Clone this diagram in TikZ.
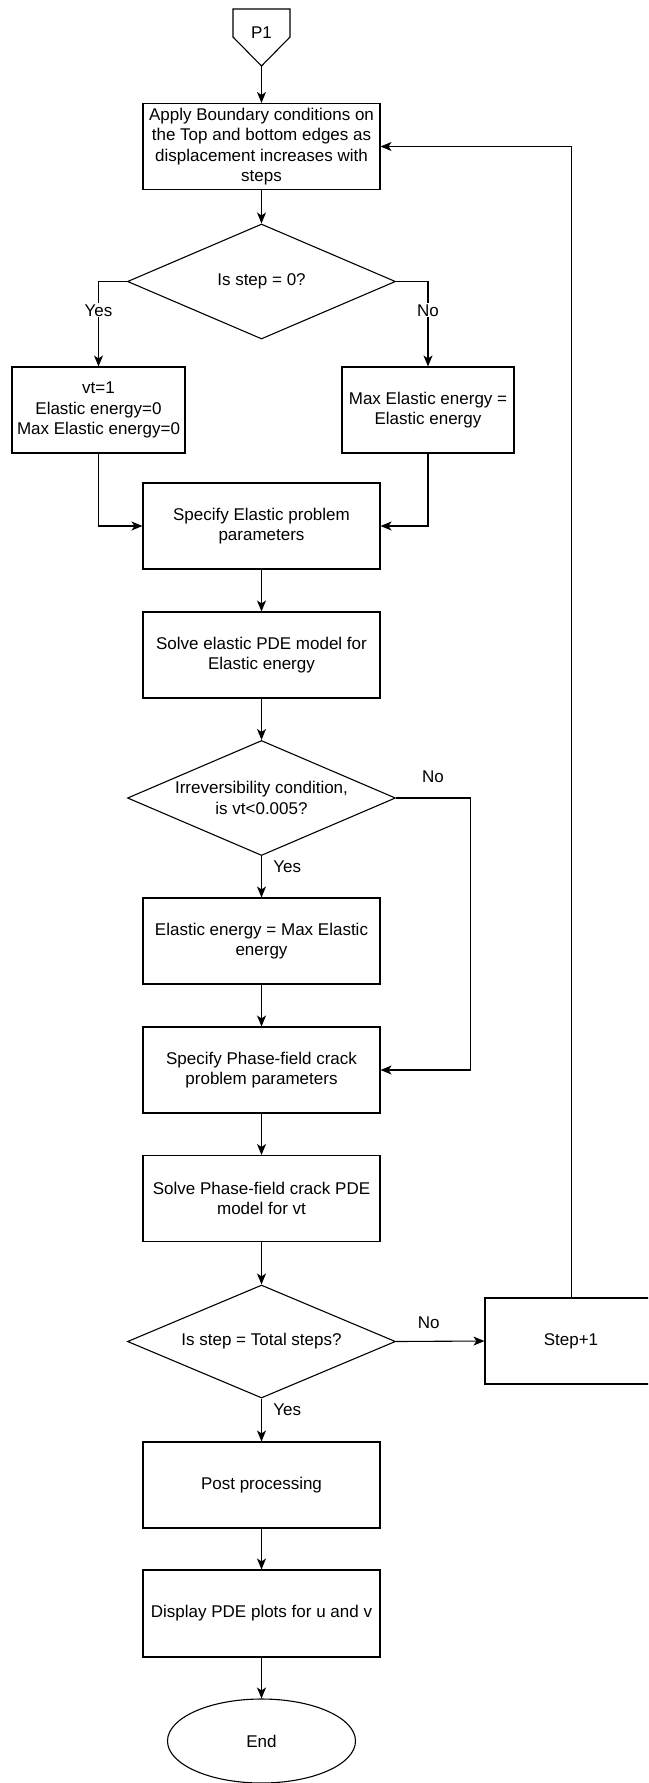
\documentclass[tikz,border=0pt]{standalone}
\usepackage{fontspec}
\setmainfont{Liberation Sans}
\usetikzlibrary{shapes.geometric,arrows.meta}
\begin{document}
\begin{tikzpicture}[x=1pt,y=-1pt,
  txt/.style={font=\fontsize{17}{20.5}\selectfont, align=center},
  box/.style={txt, draw, line width=1.1pt, minimum width=237pt, minimum height=86pt, inner sep=0pt},
  sbox/.style={txt, draw, line width=1.1pt, minimum width=172pt, minimum height=86pt, inner sep=0pt},
  dec/.style={draw, diamond, line width=1.1pt, minimum width=268pt, minimum height=115pt, inner sep=0pt},
  arr/.style={line width=1.1pt, -{Stealth[length=11pt,width=9pt,inset=3pt]}},
  thinarr/.style={line width=0.7pt, -{Stealth[length=11pt,width=9pt,inset=3pt]}},
  lbl/.style={txt, fill=white, inner sep=1pt}
]
\clip (0,0) rectangle (648,1783);
\fill[white] (0,0) rectangle (648,1783);

% P1 off-page connector
\draw[line width=1.1pt] (233,9) -- (290,9) -- (290,37) -- (261.5,66) -- (233,37) -- cycle;
\node[txt] (p1) at (261.5,33) {P1};
\coordinate (p1tip) at (261.5,66);

\node[box] (b1) at (261.5,146.5) {Apply Boundary conditions on\\the Top and bottom edges as\\displacement increases with\\steps};
\node[dec, label={[txt]center:{Is step = 0?}}] (d1) at (261.5,281.5) {};
\node[sbox, minimum width=173pt] (lb) at (98.5,410) {vt=1\\Elastic energy=0\\Max Elastic energy=0};
\node[sbox] (rb) at (428,410) {Max Elastic energy =\\Elastic energy};
\node[box] (b3) at (261.5,526) {Specify Elastic problem\\parameters};
\node[box] (b4) at (261.5,655) {Solve elastic PDE model for\\Elastic energy};
\node[dec, label={[txt]center:{Irreversibility condition,\\is vt<0.005?}}] (d2) at (261.5,798) {};
\node[box] (b5) at (261.5,941) {Elastic energy = Max Elastic\\energy};
\node[box] (b6) at (261.5,1070) {Specify Phase-field crack\\problem parameters};
\node[box] (b7) at (261.5,1198.5) {Solve Phase-field crack PDE\\model for vt};
\node[dec, minimum height=113pt, label={[txt]center:{Is step = Total steps?}}] (d3) at (261.5,1341.5) {};
\node[sbox] (sb) at (571,1341) {Step+1};
\node[box] (b8) at (261.5,1485) {Post processing};
\node[box, minimum height=87pt] (b9) at (261.5,1613.5) {Display PDE plots for u and v};
\node[txt, draw, ellipse, line width=1.1pt, minimum width=188pt, minimum height=84pt, inner sep=0pt] (end) at (261.5,1741) {End};

% connectors
\draw[arr] (p1tip) -- (b1.north);
\draw[arr] (b1.south) -- (d1.north);
\draw[arr] (d1.west) -| (lb.north) node[lbl, pos=0.67] {Yes};
\draw[arr] (d1.east) -| (rb.north) node[lbl, pos=0.67] {No};
\draw[arr] (lb.south) |- (b3.west);
\draw[arr] (rb.south) |- (b3.east);
\draw[arr] (b3.south) -- (b4.north);
\draw[arr] (b4.south) -- (d2.north);
\draw[arr] (d2.east) -- ++(74,0) node[txt, pos=0.5, yshift=21pt] {No} |- (b6.east);
\draw[arr] (d2.south) -- (b5.north) node[txt, pos=0.26, anchor=west, xshift=8pt] {Yes};
\draw[arr] (b5.south) -- (b6.north);
\draw[arr] (b6.south) -- (b7.north);
\draw[arr] (b7.south) -- (d3.north);
\draw[arr] (d3.east) -- (sb.west) node[txt, pos=0.37, yshift=19pt] {No};
\draw[thinarr] (sb.north) |- (b1.east);
\draw[arr] (d3.south) -- (b8.north) node[txt, pos=0.27, anchor=west, xshift=8pt] {Yes};
\draw[arr] (b8.south) -- (b9.north);
\draw[arr] (b9.south) -- (end.north);
\end{tikzpicture}
\end{document}
